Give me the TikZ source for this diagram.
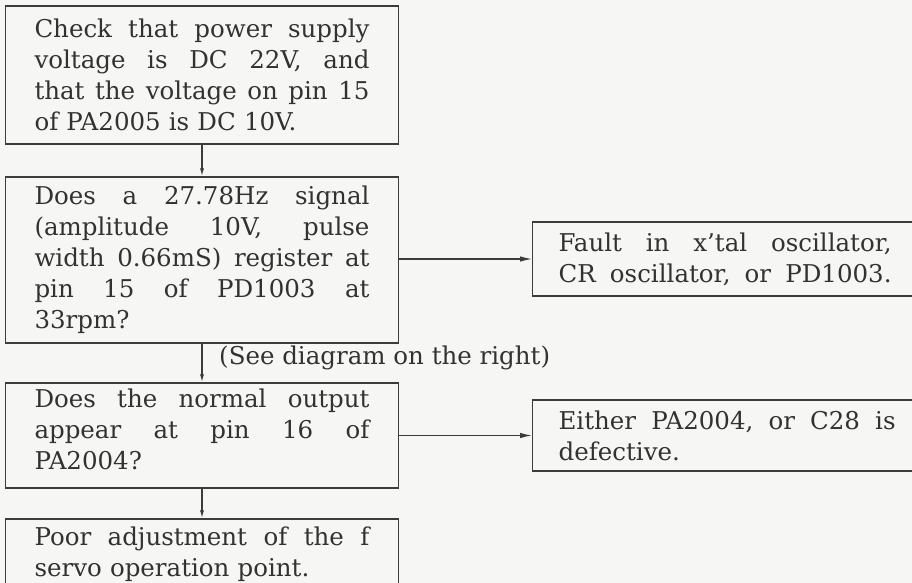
\documentclass[tikz,border=0pt]{standalone}
\usepackage{fontspec}
\setmainfont{DejaVu Serif}
\usetikzlibrary{arrows.meta,calc}
\definecolor{bgc}{RGB}{246,246,244}
\definecolor{linec}{RGB}{60,60,60}
\definecolor{textc}{RGB}{50,50,50}
\newcommand\jline[2][335pt]{\leavevmode\hbox to #1{\frenchspacing\spaceskip=0.3em plus 1fil\relax #2}}
\tikzset{
  boxnode/.style={draw=linec, line width=1.2pt, rectangle, inner xsep=29pt, inner ysep=0pt,
    text width=335pt, align=left, text=textc, font=\fontsize{24.5}{31}\selectfont},
  rbox/.style={boxnode, inner xsep=26pt, anchor=west},
  lbl/.style={text=textc, font=\fontsize{24.5}{31}\selectfont, inner sep=0pt},
  varrow/.style={draw=linec, line width=1.2pt, -{Latex[length=8pt,width=4pt]}},
  harrow/.style={draw=linec, line width=1.2pt, -{Latex[length=12pt,width=5.5pt]}}
}
\begin{document}
\begin{tikzpicture}
\path[use as bounding box] (0,0) rectangle (912pt,583pt);
\clip (0,0) rectangle (912pt,583pt);
\fill[bgc] (0,0) rectangle (912pt,583pt);

\node[boxnode, minimum height=138pt] (b1) at (202pt,508pt) {%
\jline{Check that power supply}\\
\jline{voltage is DC 22V, and}\\
\jline{that the voltage on pin 15}\\
of PA2005 is DC 10V.};

\node[boxnode, minimum height=166pt] (b2) at (202pt,323pt) {%
\jline{Does a 27.78Hz signal}\\
\jline{(amplitude 10V, pulse}\\
\jline{width 0.66mS) register at}\\
\jline{pin 15 of PD1003 at}\\
33rpm?};

\node[boxnode, minimum height=105pt] (b3) at (202pt,147.5pt) {%
\jline{Does the normal output}\\
\jline{appear at pin 16 of}\\
PA2004?\rule[-12pt]{0pt}{12pt}};

\node[boxnode, minimum height=70pt] (b4) at (202pt,29pt) {%
\jline{Poor adjustment of the f}\\
servo operation point.};

\node[rbox, text width=333pt, minimum height=74pt] (r1) at (532pt,324pt) {%
\jline[333pt]{Fault in x'tal oscillator,}\\
\jline[333pt]{CR oscillator, or PD1003.}};

\node[rbox, text width=337pt, minimum height=71pt] (r2) at (532pt,147.5pt) {%
\jline[337pt]{Either PA2004, or C28 is}\\
defective.};

\draw[varrow] (b1.south) -- (b2.north);
\draw[varrow] (b2.south) -- (b3.north);
\draw[varrow] (b3.south) -- (b4.north);
\draw[harrow] (b2.east |- r1.west) -- (r1.west);
\draw[harrow] (b3.east |- r2.west) -- (r2.west);

\node[lbl, anchor=base west] (see) at (219pt,218pt) {(See diagram on the right)};
\end{tikzpicture}
\end{document}
